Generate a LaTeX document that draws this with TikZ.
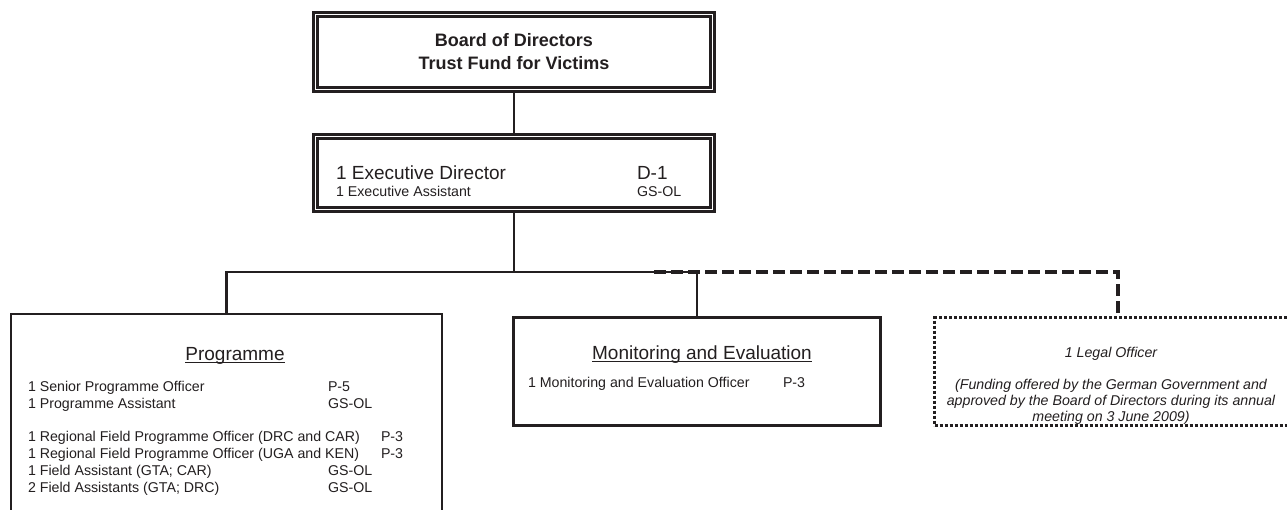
\documentclass[tikz,border=0pt]{standalone}
\usepackage{fontspec}
\setmainfont{Liberation Sans}
\usetikzlibrary{backgrounds}
\definecolor{ink}{HTML}{231F20}
\begin{document}
\begin{tikzpicture}[x=1pt,y=-1pt,
  every node/.style={text=ink},
  doublebox/.style={draw=ink, double=white, double distance=1.5pt, line width=2.5pt,
    fill=white, inner sep=0pt, outer sep=0pt, rectangle},
  unitbox/.style={draw=ink, line width=2.6pt, fill=white, inner sep=0pt, outer sep=0pt, rectangle},
  legalbox/.style={draw=ink, line width=3.2pt, dash pattern=on 3pt off 2pt, fill=white,
    inner sep=0pt, outer sep=0pt, rectangle},
  conn/.style={draw=ink, line width=2.6pt},
  dashconn/.style={draw=ink, line width=3.2pt, dash pattern=on 12pt off 5pt},
  txt/.style={inner sep=0pt, outer sep=0pt, anchor=base west},
  ctxt/.style={inner sep=0pt, outer sep=0pt, anchor=base},
  uline/.style={draw=ink, line width=1.1pt},
  big/.style={font=\fontsize{19}{22}\selectfont},
  small/.style={font=\fontsize{14.2}{17}\selectfont},
  note/.style={font=\fontsize{14.2}{16}\selectfont\itshape},
]
\clip (0,0) rectangle (1287,509);

% boxes
\node[doublebox, minimum width=397pt, minimum height=75pt] (board) at (514,52) {};
\node[doublebox, minimum width=397pt, minimum height=73pt] (exec) at (514,173) {};
\node[unitbox, minimum width=431pt, minimum height=226pt] (prog) at (226.5,427) {};
\node[unitbox, minimum width=367.4pt, minimum height=108.4pt] (me) at (697,371.5) {};
\node[legalbox, minimum width=367pt, minimum height=108pt] (legal) at (1118,371.5) {};

% connectors
\coordinate (bus) at (514,272);
\coordinate (dstart) at (654,272);
\begin{scope}[on background layer]
  \draw[conn] (board.south) -- (exec.north);
  \draw[conn] (exec.south) -- (bus);
  \draw[conn] (prog.north) |- (bus);
  \draw[conn] (me.north) |- (bus);
  \draw[dashconn] (dstart) -| (legal.north);
\end{scope}

% board
\node[inner sep=0pt, align=center, font=\fontsize{18}{23}\selectfont\bfseries] (boardtxt) at (514,52)
  {Board of Directors\\Trust Fund for Victims};

% executive office
\node[txt, big] (ed) at (336,179) {1 Executive Director};
\node[txt, small] (ea) at (336,196) {1 Executive Assistant};
\node[txt, big] (edg) at (637,179) {D-1};
\node[txt, small] (eag) at (637,196) {GS-OL};

% programme section
\node[ctxt, big] (proghead) at (235,360) {Programme};
\draw[uline] ([yshift=-2.8pt]proghead.base west) -- ([yshift=-2.8pt]proghead.base east);
\node[txt, small] (p1) at (28,391) {1 Senior Programme Officer};
\node[txt, small] (p1g) at (328,391) {P-5};
\node[txt, small] (p2) at (28,408) {1 Programme Assistant};
\node[txt, small] (p2g) at (328,408) {GS-OL};
\node[txt, small] (p3) at (28,441) {1 Regional Field Programme Officer (DRC and CAR)};
\node[txt, small] (p3g) at (381,441) {P-3};
\node[txt, small] (p4) at (28,458) {1 Regional Field Programme Officer (UGA and KEN)};
\node[txt, small] (p4g) at (381,458) {P-3};
\node[txt, small] (p5) at (28,475) {1 Field Assistant (GTA; CAR)};
\node[txt, small] (p5g) at (328,475) {GS-OL};
\node[txt, small] (p6) at (28,492) {2 Field Assistants (GTA; DRC)};
\node[txt, small] (p6g) at (328,492) {GS-OL};

% monitoring and evaluation section
\node[ctxt, big] (mehead) at (702,359) {Monitoring and Evaluation};
\draw[uline] ([yshift=-2.8pt]mehead.base west) -- ([yshift=-2.8pt]mehead.base east);
\node[txt, small] (m1) at (528,387) {1 Monitoring and Evaluation Officer};
\node[txt, small] (m1g) at (783,387) {P-3};

% legal officer
\node[ctxt, note] (l1) at (1111,357) {1 Legal Officer};
\node[ctxt, note] (l2) at (1111,389) {(Funding offered by the German Government and};
\node[ctxt, note] (l3) at (1111,405) {approved by the Board of Directors during its annual};
\node[ctxt, note] (l4) at (1111,421) {meeting on 3 June 2009)};
\end{tikzpicture}
\end{document}
